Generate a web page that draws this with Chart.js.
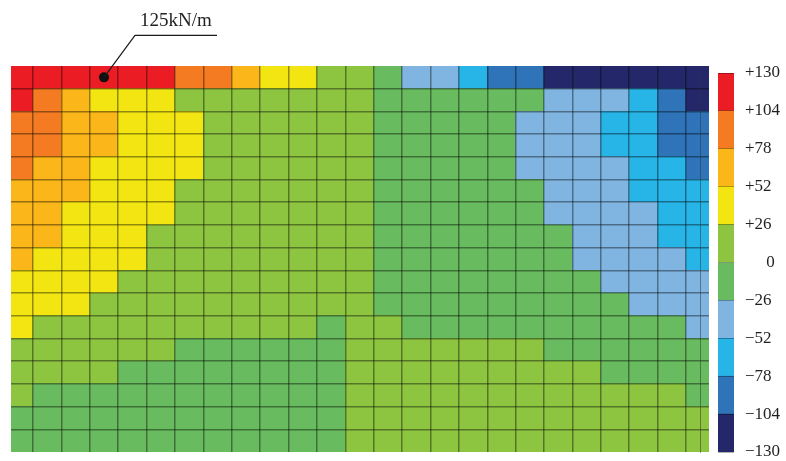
<!DOCTYPE html>
<html>
<head>
<meta charset="utf-8">
<script src="https://cdn.jsdelivr.net/npm/chart.js@4/dist/chart.umd.min.js"></script>
<style>
html,body{margin:0;padding:0;background:#fff;overflow:hidden;width:786px;height:461px;}
#wrap{position:relative;width:786px;height:461px;overflow:hidden;}
#heat{position:absolute;left:0;top:0;}
#bar{position:absolute;left:700px;top:-20px;}
</style>
</head>
<body>
<div id="wrap">
<canvas id="heat" width="786" height="461"></canvas>
<canvas id="bar" width="86" height="500"></canvas>
</div>
<script>
// ---- colour scale (kN/m): band edges and band colours ----
const levels = [-130, -104, -78, -52, -26, 0, 26, 52, 78, 104, 130];
const bandColors = ['#24286B', '#2F73B8', '#27B4E7', '#80B5E1', '#68BB5E',
                    '#8DC540', '#F2E512', '#FBB619', '#F47B21', '#EC1C24'];

// ---- annotation ----
const annotText = '125kN/m';
const annotRow = 0;   // top row
const annotCol = 3;   // 4th column

// ---- cell values (kN/m), rows top -> bottom, columns left -> right ----
const row01 = [117,117,117,125,117,117,91,91,65,39,39,13,13,-13,-39,-39,-65,-91,-91,-117,-117,-117,-117,-117,-117];
const row02 = [117,91,65,39,39,39,13,13,13,13,13,13,13,-13,-13,-13,-13,-13,-13,-39,-39,-39,-65,-91,-117];
const row03 = [91,91,65,65,39,39,39,13,13,13,13,13,13,-13,-13,-13,-13,-13,-39,-39,-39,-65,-65,-91,-91];
const row04 = [91,91,65,65,39,39,39,13,13,13,13,13,13,-13,-13,-13,-13,-13,-39,-39,-39,-65,-65,-91,-91];
const row05 = [91,65,65,39,39,39,39,13,13,13,13,13,13,-13,-13,-13,-13,-13,-39,-39,-39,-39,-65,-65,-91];
const row06 = [65,65,65,39,39,39,13,13,13,13,13,13,13,-13,-13,-13,-13,-13,-13,-39,-39,-39,-65,-65,-65];
const row07 = [65,65,39,39,39,39,13,13,13,13,13,13,13,-13,-13,-13,-13,-13,-13,-39,-39,-39,-39,-65,-65];
const row08 = [65,65,39,39,39,13,13,13,13,13,13,13,13,-13,-13,-13,-13,-13,-13,-13,-39,-39,-39,-65,-65];
const row09 = [65,39,39,39,39,13,13,13,13,13,13,13,13,-13,-13,-13,-13,-13,-13,-13,-39,-39,-39,-39,-65];
const row10 = [39,39,39,39,13,13,13,13,13,13,13,13,13,-13,-13,-13,-13,-13,-13,-13,-13,-39,-39,-39,-39];
const row11 = [39,39,39,13,13,13,13,13,13,13,13,13,13,-13,-13,-13,-13,-13,-13,-13,-13,-13,-39,-39,-39];
const row12 = [39,13,13,13,13,13,13,13,13,13,13,-13,13,13,-13,-13,-13,-13,-13,-13,-13,-13,-13,-13,-39];
const row13 = [13,13,13,13,13,13,-13,-13,-13,-13,-13,-13,13,13,13,13,13,13,13,-13,-13,-13,-13,-13,-13];
const row14 = [13,13,13,13,-13,-13,-13,-13,-13,-13,-13,-13,13,13,13,13,13,13,13,13,13,-13,-13,-13,-13];
const row15 = [13,-13,-13,-13,-13,-13,-13,-13,-13,-13,-13,-13,13,13,13,13,13,13,13,13,13,13,13,13,-13];
const row16 = [-13,-13,-13,-13,-13,-13,-13,-13,-13,-13,-13,-13,13,13,13,13,13,13,13,13,13,13,13,13,13];
const row17 = [-13,-13,-13,-13,-13,-13,-13,-13,-13,-13,-13,-13,13,13,13,13,13,13,13,13,13,13,13,13,13];

const grid = [row01,row02,row03,row04,row05,row06,row07,row08,row09,row10,row11,row12,row13,row14,row15,row16,row17];
const nRows = grid.length;
const nCols = grid[0].length;

function colorOf(v) {
  let i = 0;
  while (i < bandColors.length - 1 && v >= levels[i + 1]) i++;
  return bandColors[i];
}

const cells = [];
grid.forEach((row, r) => row.forEach((v, c) => cells.push({ x: c + 0.5, y: [r, r + 1], v })));

const lineColor = 'rgba(0,0,0,0.4)';
const serif = "'Liberation Serif', 'DejaVu Serif', serif";

const annotPlugin = {
  id: 'annot',
  afterDraw(chart) {
    const pt = chart.getDatasetMeta(0).data[0];
    const ctx = chart.ctx;
    const px = pt.x, py = pt.y;
    ctx.save();
    ctx.strokeStyle = '#1a1a1a';
    ctx.lineWidth = 1.2;
    ctx.beginPath();
    ctx.moveTo(px, py);
    ctx.lineTo(px + 31, py - 42);
    ctx.lineTo(px + 113, py - 42);
    ctx.stroke();
    ctx.fillStyle = '#222';
    ctx.font = '19px ' + serif;
    ctx.textBaseline = 'alphabetic';
    ctx.textAlign = 'left';
    ctx.fillText(annotText, px + 36, py - 51);
    ctx.restore();
  }
};

new Chart(document.getElementById('heat'), {
  type: 'bar',
  data: {
    datasets: [
      {
        type: 'scatter',
        data: [{ x: annotCol + 0.5, y: annotRow + 0.5 }],
        pointRadius: 5,
        pointBackgroundColor: '#111',
        pointBorderWidth: 0,
        order: 0
      },
      {
        type: 'bar',
        data: cells,
        backgroundColor: (ctx) => (ctx.raw ? colorOf(ctx.raw.v) : '#fff'),
        borderWidth: 0,
        barPercentage: 1,
        categoryPercentage: 1,
        clip: 0,
        order: 1
      }
    ]
  },
  options: {
    responsive: false,
    animation: false,
    events: [],
    layout: { padding: { left: 11, right: 77, top: 66, bottom: 9 } },
    plugins: { legend: { display: false }, tooltip: { enabled: false } },
    scales: {
      x: {
        type: 'linear',
        bounds: 'data',
        min: 0.225,
        max: 24.81,
        offset: false,
        afterBuildTicks: (s) => { s.ticks = Array.from({ length: nCols - 1 }, (_, i) => ({ value: i + 1 })); },
        ticks: { display: false },
        grid: { color: lineColor, lineWidth: 1.5, drawTicks: false, z: 1, offset: false },
        border: { display: false }
      },
      y: {
        type: 'linear',
        min: 0,
        max: nRows,
        reverse: true,
        afterBuildTicks: (s) => { s.ticks = Array.from({ length: nRows - 1 }, (_, i) => ({ value: i + 1 })); },
        ticks: { display: false },
        grid: { color: lineColor, lineWidth: 1.5, drawTicks: false, z: 1 },
        border: { display: false }
      }
    }
  },
  plugins: [annotPlugin]
});

function fmtLevel(v) {
  if (v > 0) return '+' + v;
  if (v < 0) return '\u2212' + Math.abs(v);
  return '     0';
}

new Chart(document.getElementById('bar'), {
  type: 'bar',
  data: {
    labels: [''],
    datasets: bandColors.map((col, i) => ({
      data: [[levels[i], levels[i + 1]]],
      backgroundColor: col,
      borderWidth: 0,
      grouped: false,
      barPercentage: 1,
      categoryPercentage: 1
    }))
  },
  options: {
    responsive: false,
    animation: false,
    events: [],
    layout: { padding: { left: 18, right: 0, top: 93, bottom: 28 } },
    plugins: { legend: { display: false }, tooltip: { enabled: false } },
    scales: {
      x: { display: false },
      y: {
        position: 'right',
        min: levels[0],
        max: levels[levels.length - 1],
        afterFit: (s) => { s.width = 52; },
        ticks: {
          stepSize: 26,
          autoSkip: false,
          padding: 11,
          crossAlign: 'near',
          color: '#231f20',
          font: { family: serif, size: 17 },
          callback: fmtLevel
        },
        grid: { drawTicks: false, color: 'rgba(0,0,0,0.3)', z: 1 },
        border: { display: true, color: '#333', width: 1 }
      }
    }
  }
});
</script>
</body>
</html>
